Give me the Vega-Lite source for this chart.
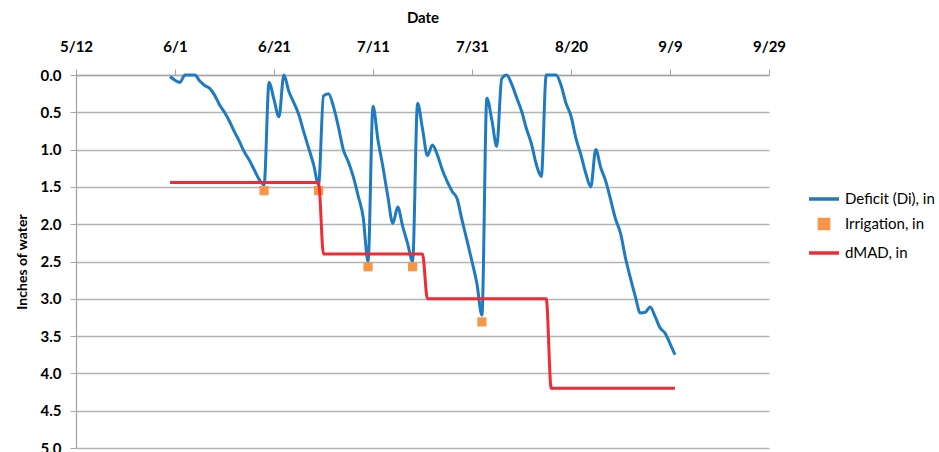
{
  "$schema": "https://vega.github.io/schema/vega-lite/v6.json",
  "width": 693,
  "height": 373,
  "autosize": {"type": "none"},
  "padding": {"left": 76, "top": 75, "right": 170, "bottom": 4},
  "background": "white",
  "config": {
    "view": {"stroke": null},
    "font": "Lato",
    "axis": {"labelFont": "Lato", "titleFont": "Lato", "labelColor": "#000000", "titleColor": "#000000"}
  },
  "data": {
    "values": [
      {"date": "2013-05-31", "deficit": 0.02, "dmad": 1.44, "irrigation": null},
      {"date": "2013-06-01", "deficit": 0.07, "dmad": 1.44, "irrigation": null},
      {"date": "2013-06-02", "deficit": 0.10, "dmad": 1.44, "irrigation": null},
      {"date": "2013-06-03", "deficit": 0.00, "dmad": 1.44, "irrigation": null},
      {"date": "2013-06-04", "deficit": 0.00, "dmad": 1.44, "irrigation": null},
      {"date": "2013-06-05", "deficit": 0.00, "dmad": 1.44, "irrigation": null},
      {"date": "2013-06-06", "deficit": 0.08, "dmad": 1.44, "irrigation": null},
      {"date": "2013-06-07", "deficit": 0.14, "dmad": 1.44, "irrigation": null},
      {"date": "2013-06-08", "deficit": 0.18, "dmad": 1.44, "irrigation": null},
      {"date": "2013-06-09", "deficit": 0.27, "dmad": 1.44, "irrigation": null},
      {"date": "2013-06-10", "deficit": 0.40, "dmad": 1.44, "irrigation": null},
      {"date": "2013-06-11", "deficit": 0.50, "dmad": 1.44, "irrigation": null},
      {"date": "2013-06-12", "deficit": 0.62, "dmad": 1.44, "irrigation": null},
      {"date": "2013-06-13", "deficit": 0.76, "dmad": 1.44, "irrigation": null},
      {"date": "2013-06-14", "deficit": 0.89, "dmad": 1.44, "irrigation": null},
      {"date": "2013-06-15", "deficit": 1.03, "dmad": 1.44, "irrigation": null},
      {"date": "2013-06-16", "deficit": 1.14, "dmad": 1.44, "irrigation": null},
      {"date": "2013-06-17", "deficit": 1.27, "dmad": 1.44, "irrigation": null},
      {"date": "2013-06-18", "deficit": 1.40, "dmad": 1.44, "irrigation": null},
      {"date": "2013-06-19", "deficit": 1.47, "dmad": 1.44, "irrigation": 1.55},
      {"date": "2013-06-20", "deficit": 0.10, "dmad": 1.44, "irrigation": null},
      {"date": "2013-06-21", "deficit": 0.33, "dmad": 1.44, "irrigation": null},
      {"date": "2013-06-22", "deficit": 0.56, "dmad": 1.44, "irrigation": null},
      {"date": "2013-06-23", "deficit": 0.00, "dmad": 1.44, "irrigation": null},
      {"date": "2013-06-24", "deficit": 0.22, "dmad": 1.44, "irrigation": null},
      {"date": "2013-06-25", "deficit": 0.37, "dmad": 1.44, "irrigation": null},
      {"date": "2013-06-26", "deficit": 0.53, "dmad": 1.44, "irrigation": null},
      {"date": "2013-06-27", "deficit": 0.76, "dmad": 1.44, "irrigation": null},
      {"date": "2013-06-28", "deficit": 0.98, "dmad": 1.44, "irrigation": null},
      {"date": "2013-06-29", "deficit": 1.20, "dmad": 1.44, "irrigation": null},
      {"date": "2013-06-30", "deficit": 1.47, "dmad": 1.44, "irrigation": 1.55},
      {"date": "2013-07-01", "deficit": 0.28, "dmad": 2.40, "irrigation": null},
      {"date": "2013-07-02", "deficit": 0.25, "dmad": 2.40, "irrigation": null},
      {"date": "2013-07-03", "deficit": 0.42, "dmad": 2.40, "irrigation": null},
      {"date": "2013-07-04", "deficit": 0.69, "dmad": 2.40, "irrigation": null},
      {"date": "2013-07-05", "deficit": 1.00, "dmad": 2.40, "irrigation": null},
      {"date": "2013-07-06", "deficit": 1.16, "dmad": 2.40, "irrigation": null},
      {"date": "2013-07-07", "deficit": 1.36, "dmad": 2.40, "irrigation": null},
      {"date": "2013-07-08", "deficit": 1.62, "dmad": 2.40, "irrigation": null},
      {"date": "2013-07-09", "deficit": 1.90, "dmad": 2.40, "irrigation": null},
      {"date": "2013-07-10", "deficit": 2.50, "dmad": 2.40, "irrigation": 2.57},
      {"date": "2013-07-11", "deficit": 0.42, "dmad": 2.40, "irrigation": null},
      {"date": "2013-07-12", "deficit": 0.87, "dmad": 2.40, "irrigation": null},
      {"date": "2013-07-13", "deficit": 1.23, "dmad": 2.40, "irrigation": null},
      {"date": "2013-07-14", "deficit": 1.63, "dmad": 2.40, "irrigation": null},
      {"date": "2013-07-15", "deficit": 1.99, "dmad": 2.40, "irrigation": null},
      {"date": "2013-07-16", "deficit": 1.77, "dmad": 2.40, "irrigation": null},
      {"date": "2013-07-17", "deficit": 2.03, "dmad": 2.40, "irrigation": null},
      {"date": "2013-07-18", "deficit": 2.26, "dmad": 2.40, "irrigation": null},
      {"date": "2013-07-19", "deficit": 2.50, "dmad": 2.40, "irrigation": 2.57},
      {"date": "2013-07-20", "deficit": 0.38, "dmad": 2.40, "irrigation": null},
      {"date": "2013-07-21", "deficit": 0.72, "dmad": 2.40, "irrigation": null},
      {"date": "2013-07-22", "deficit": 1.08, "dmad": 3.00, "irrigation": null},
      {"date": "2013-07-23", "deficit": 0.94, "dmad": 3.00, "irrigation": null},
      {"date": "2013-07-24", "deficit": 1.07, "dmad": 3.00, "irrigation": null},
      {"date": "2013-07-25", "deficit": 1.27, "dmad": 3.00, "irrigation": null},
      {"date": "2013-07-26", "deficit": 1.43, "dmad": 3.00, "irrigation": null},
      {"date": "2013-07-27", "deficit": 1.56, "dmad": 3.00, "irrigation": null},
      {"date": "2013-07-28", "deficit": 1.66, "dmad": 3.00, "irrigation": null},
      {"date": "2013-07-29", "deficit": 1.95, "dmad": 3.00, "irrigation": null},
      {"date": "2013-07-30", "deficit": 2.22, "dmad": 3.00, "irrigation": null},
      {"date": "2013-07-31", "deficit": 2.50, "dmad": 3.00, "irrigation": null},
      {"date": "2013-08-01", "deficit": 2.80, "dmad": 3.00, "irrigation": null},
      {"date": "2013-08-02", "deficit": 3.22, "dmad": 3.00, "irrigation": 3.31},
      {"date": "2013-08-03", "deficit": 0.31, "dmad": 3.00, "irrigation": null},
      {"date": "2013-08-04", "deficit": 0.60, "dmad": 3.00, "irrigation": null},
      {"date": "2013-08-05", "deficit": 0.96, "dmad": 3.00, "irrigation": null},
      {"date": "2013-08-06", "deficit": 0.05, "dmad": 3.00, "irrigation": null},
      {"date": "2013-08-07", "deficit": 0.00, "dmad": 3.00, "irrigation": null},
      {"date": "2013-08-08", "deficit": 0.12, "dmad": 3.00, "irrigation": null},
      {"date": "2013-08-09", "deficit": 0.30, "dmad": 3.00, "irrigation": null},
      {"date": "2013-08-10", "deficit": 0.48, "dmad": 3.00, "irrigation": null},
      {"date": "2013-08-11", "deficit": 0.72, "dmad": 3.00, "irrigation": null},
      {"date": "2013-08-12", "deficit": 0.92, "dmad": 3.00, "irrigation": null},
      {"date": "2013-08-13", "deficit": 1.20, "dmad": 3.00, "irrigation": null},
      {"date": "2013-08-14", "deficit": 1.36, "dmad": 3.00, "irrigation": null},
      {"date": "2013-08-15", "deficit": 0.00, "dmad": 3.00, "irrigation": null},
      {"date": "2013-08-16", "deficit": 0.00, "dmad": 4.20, "irrigation": null},
      {"date": "2013-08-17", "deficit": 0.00, "dmad": 4.20, "irrigation": null},
      {"date": "2013-08-18", "deficit": 0.14, "dmad": 4.20, "irrigation": null},
      {"date": "2013-08-19", "deficit": 0.38, "dmad": 4.20, "irrigation": null},
      {"date": "2013-08-20", "deficit": 0.55, "dmad": 4.20, "irrigation": null},
      {"date": "2013-08-21", "deficit": 0.85, "dmad": 4.20, "irrigation": null},
      {"date": "2013-08-22", "deficit": 1.07, "dmad": 4.20, "irrigation": null},
      {"date": "2013-08-23", "deficit": 1.32, "dmad": 4.20, "irrigation": null},
      {"date": "2013-08-24", "deficit": 1.50, "dmad": 4.20, "irrigation": null},
      {"date": "2013-08-25", "deficit": 1.00, "dmad": 4.20, "irrigation": null},
      {"date": "2013-08-26", "deficit": 1.24, "dmad": 4.20, "irrigation": null},
      {"date": "2013-08-27", "deficit": 1.42, "dmad": 4.20, "irrigation": null},
      {"date": "2013-08-28", "deficit": 1.67, "dmad": 4.20, "irrigation": null},
      {"date": "2013-08-29", "deficit": 1.93, "dmad": 4.20, "irrigation": null},
      {"date": "2013-08-30", "deficit": 2.12, "dmad": 4.20, "irrigation": null},
      {"date": "2013-08-31", "deficit": 2.45, "dmad": 4.20, "irrigation": null},
      {"date": "2013-09-01", "deficit": 2.72, "dmad": 4.20, "irrigation": null},
      {"date": "2013-09-02", "deficit": 2.97, "dmad": 4.20, "irrigation": null},
      {"date": "2013-09-03", "deficit": 3.19, "dmad": 4.20, "irrigation": null},
      {"date": "2013-09-04", "deficit": 3.18, "dmad": 4.20, "irrigation": null},
      {"date": "2013-09-05", "deficit": 3.11, "dmad": 4.20, "irrigation": null},
      {"date": "2013-09-06", "deficit": 3.24, "dmad": 4.20, "irrigation": null},
      {"date": "2013-09-07", "deficit": 3.39, "dmad": 4.20, "irrigation": null},
      {"date": "2013-09-08", "deficit": 3.46, "dmad": 4.20, "irrigation": null},
      {"date": "2013-09-09", "deficit": 3.60, "dmad": 4.20, "irrigation": null},
      {"date": "2013-09-10", "deficit": 3.75, "dmad": 4.20, "irrigation": null}
    ]
  },
  "transform": [
    {"fold": ["deficit", "irrigation", "dmad"], "as": ["key", "value"]},
    {"filter": "isValid(datum.value)"}
  ],
  "encoding": {
    "x": {
      "field": "date",
      "type": "temporal",
      "scale": {
        "type": "utc",
        "domain": [
          {"year": 2013, "month": 5, "date": 12, "utc": true},
          {"year": 2013, "month": 9, "date": 29, "utc": true}
        ]
      },
      "axis": {
        "orient": "top",
        "title": "Date",
        "values": [
          {"year": 2013, "month": 5, "date": 12, "utc": true},
          {"year": 2013, "month": 6, "date": 1, "utc": true},
          {"year": 2013, "month": 6, "date": 21, "utc": true},
          {"year": 2013, "month": 7, "date": 11, "utc": true},
          {"year": 2013, "month": 7, "date": 31, "utc": true},
          {"year": 2013, "month": 8, "date": 20, "utc": true},
          {"year": 2013, "month": 9, "date": 9, "utc": true},
          {"year": 2013, "month": 9, "date": 29, "utc": true}
        ],
        "format": "%-m/%-d",
        "grid": false,
        "labelFontSize": 15,
        "labelFontWeight": "bold",
        "titleFontSize": 15,
        "titleFontWeight": "bold",
        "domainColor": "#a6a6a6",
        "domainWidth": 1.3,
        "tickColor": "#a6a6a6",
        "tickSize": 6,
        "labelPadding": 15,
        "titlePadding": 14,
        "labelFlush": false
      }
    },
    "y": {
      "field": "value",
      "type": "quantitative",
      "scale": {"domain": [0, 5], "reverse": true, "nice": false, "zero": false},
      "axis": {
        "title": "Inches of water",
        "values": [0, 0.5, 1, 1.5, 2, 2.5, 3, 3.5, 4, 4.5, 5],
        "format": ".1f",
        "labelFontSize": 15,
        "labelFontWeight": "bold",
        "titleFontSize": 14,
        "titleFontWeight": "bold",
        "gridColor": "#b4b4b4",
        "gridWidth": 1.3,
        "domainColor": "#a6a6a6",
        "domainWidth": 1.3,
        "tickColor": "#a6a6a6",
        "tickSize": 6,
        "labelPadding": 9,
        "titlePadding": 11,
        "labelFlush": false
      }
    },
    "color": {
      "field": "key",
      "type": "nominal",
      "scale": {
        "domain": ["deficit", "irrigation", "dmad"],
        "range": ["#1F7BC1", "#F79646", "#EE2C36"]
      },
      "legend": {
        "orient": "none",
        "legendX": 731,
        "legendY": 107,
        "title": null,
        "padding": 0,
        "symbolType": "stroke",
        "symbolSize": 900,
        "symbolStrokeWidth": 3.5,
        "rowPadding": 0,
        "labelOffset": 4,
        "labelFont": "Lato",
        "labelFontSize": 15,
        "labelColor": "#000000",
        "labelExpr": "datum.value == 'deficit' ? 'Deficit (Di), in' : (datum.value == 'irrigation' ? 'Irrigation, in' : 'dMAD, in')",
        "encode": {
          "symbols": {
            "update": {
              "shape": {"signal": "datum.value == 'irrigation' ? 'square' : 'stroke'"},
              "size": {"signal": "datum.value == 'irrigation' ? 85 : 900"},
              "fill": {"signal": "datum.value == 'irrigation' ? '#F79646' : 'transparent'"},
              "stroke": {"signal": "datum.value == 'irrigation' ? 'transparent' : (datum.value == 'dmad' ? '#EE2C36' : '#1F7BC1')"},
              "strokeWidth": {"value": 3.5},
              "opacity": {"value": 1}
            }
          }
        }
      }
    }
  },
  "layer": [
    {
      "transform": [{"filter": "datum.key == 'deficit'"}],
      "mark": {"type": "line", "interpolate": "monotone", "strokeWidth": 3}
    },
    {
      "transform": [{"filter": "datum.key == 'irrigation'"}],
      "mark": {"type": "point", "shape": "square", "filled": true, "size": 85, "opacity": 1}
    },
    {
      "transform": [{"filter": "datum.key == 'dmad'"}],
      "mark": {"type": "line", "interpolate": "monotone", "strokeWidth": 3}
    }
  ]
}
